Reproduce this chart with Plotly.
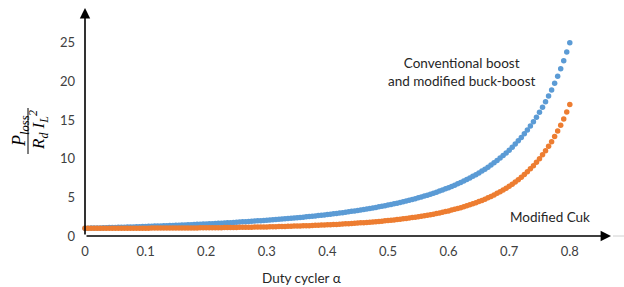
import plotly.graph_objects as go

alpha = [0.000, 0.005, 0.010, 0.015, 0.020, 0.025, 0.030, 0.035, 0.040, 0.045,
         0.050, 0.055, 0.060, 0.065, 0.070, 0.075, 0.080, 0.085, 0.090, 0.095,
         0.100, 0.105, 0.110, 0.115, 0.120, 0.125, 0.130, 0.135, 0.140, 0.145,
         0.150, 0.155, 0.160, 0.165, 0.170, 0.175, 0.180, 0.185, 0.190, 0.195,
         0.200, 0.205, 0.210, 0.215, 0.220, 0.225, 0.230, 0.235, 0.240, 0.245,
         0.250, 0.255, 0.260, 0.265, 0.270, 0.275, 0.280, 0.285, 0.290, 0.295,
         0.300, 0.305, 0.310, 0.315, 0.320, 0.325, 0.330, 0.335, 0.340, 0.345,
         0.350, 0.355, 0.360, 0.365, 0.370, 0.375, 0.380, 0.385, 0.390, 0.395,
         0.400, 0.405, 0.410, 0.415, 0.420, 0.425, 0.430, 0.435, 0.440, 0.445,
         0.450, 0.455, 0.460, 0.465, 0.470, 0.475, 0.480, 0.485, 0.490, 0.495,
         0.500, 0.505, 0.510, 0.515, 0.520, 0.525, 0.530, 0.535, 0.540, 0.545,
         0.550, 0.555, 0.560, 0.565, 0.570, 0.575, 0.580, 0.585, 0.590, 0.595,
         0.600, 0.605, 0.610, 0.615, 0.620, 0.625, 0.630, 0.635, 0.640, 0.645,
         0.650, 0.655, 0.660, 0.665, 0.670, 0.675, 0.680, 0.685, 0.690, 0.695,
         0.700, 0.705, 0.710, 0.715, 0.720, 0.725, 0.730, 0.735, 0.740, 0.745,
         0.750, 0.755, 0.760, 0.765, 0.770, 0.775, 0.780, 0.785, 0.790, 0.795,
         0.800]

boost_loss = [1.00, 1.01, 1.02, 1.03, 1.04, 1.05, 1.06, 1.07, 1.09, 1.10,
              1.11, 1.12, 1.13, 1.14, 1.16, 1.17, 1.18, 1.19, 1.21, 1.22,
              1.23, 1.25, 1.26, 1.28, 1.29, 1.31, 1.32, 1.34, 1.35, 1.37,
              1.38, 1.40, 1.42, 1.43, 1.45, 1.47, 1.49, 1.51, 1.52, 1.54,
              1.56, 1.58, 1.60, 1.62, 1.64, 1.66, 1.69, 1.71, 1.73, 1.75,
              1.78, 1.80, 1.83, 1.85, 1.88, 1.90, 1.93, 1.96, 1.98, 2.01,
              2.04, 2.07, 2.10, 2.13, 2.16, 2.19, 2.23, 2.26, 2.30, 2.33,
              2.37, 2.40, 2.44, 2.48, 2.52, 2.56, 2.60, 2.64, 2.69, 2.73,
              2.78, 2.82, 2.87, 2.92, 2.97, 3.02, 3.08, 3.13, 3.19, 3.25,
              3.31, 3.37, 3.43, 3.49, 3.56, 3.63, 3.70, 3.77, 3.84, 3.92,
              4.00, 4.08, 4.16, 4.25, 4.34, 4.43, 4.53, 4.62, 4.73, 4.83,
              4.94, 5.05, 5.17, 5.28, 5.41, 5.54, 5.67, 5.81, 5.95, 6.10,
              6.25, 6.41, 6.57, 6.75, 6.93, 7.11, 7.30, 7.51, 7.72, 7.93,
              8.16, 8.40, 8.65, 8.91, 9.18, 9.47, 9.77, 10.08, 10.41, 10.75,
              11.11, 11.49, 11.89, 12.31, 12.76, 13.22, 13.72, 14.24, 14.79, 15.38,
              16.00, 16.66, 17.36, 18.11, 18.90, 19.75, 20.66, 21.63, 22.68, 23.80,
              25.00]

cuk_loss = [1.00, 1.00, 1.00, 1.00, 1.00, 1.00, 1.00, 1.00, 1.00, 1.00,
            1.00, 1.00, 1.00, 1.00, 1.01, 1.01, 1.01, 1.01, 1.01, 1.01,
            1.01, 1.01, 1.02, 1.02, 1.02, 1.02, 1.02, 1.02, 1.03, 1.03,
            1.03, 1.03, 1.04, 1.04, 1.04, 1.05, 1.05, 1.05, 1.06, 1.06,
            1.06, 1.07, 1.07, 1.08, 1.08, 1.08, 1.09, 1.09, 1.10, 1.11,
            1.11, 1.12, 1.12, 1.13, 1.14, 1.14, 1.15, 1.16, 1.17, 1.18,
            1.18, 1.19, 1.20, 1.21, 1.22, 1.23, 1.24, 1.25, 1.27, 1.28,
            1.29, 1.30, 1.32, 1.33, 1.34, 1.36, 1.38, 1.39, 1.41, 1.43,
            1.44, 1.46, 1.48, 1.50, 1.52, 1.55, 1.57, 1.59, 1.62, 1.64,
            1.67, 1.70, 1.73, 1.76, 1.79, 1.82, 1.85, 1.89, 1.92, 1.96,
            2.00, 2.04, 2.08, 2.13, 2.17, 2.22, 2.27, 2.32, 2.38, 2.43,
            2.49, 2.56, 2.62, 2.69, 2.76, 2.83, 2.91, 2.99, 3.07, 3.16,
            3.25, 3.35, 3.45, 3.55, 3.66, 3.78, 3.90, 4.03, 4.16, 4.30,
            4.45, 4.60, 4.77, 4.94, 5.12, 5.31, 5.52, 5.73, 5.95, 6.19,
            6.44, 6.71, 6.99, 7.29, 7.61, 7.95, 8.31, 8.69, 9.10, 9.54,
            10.00, 10.50, 11.03, 11.60, 12.21, 12.86, 13.57, 14.33, 15.15, 16.04,
            17.00]

x_ticks = [0, 0.1, 0.2, 0.3, 0.4, 0.5, 0.6, 0.7, 0.8]
x_tick_text = ["0", "0.1", "0.2", "0.3", "0.4", "0.5", "0.6", "0.7", "0.8"]
y_ticks = [0, 5, 10, 15, 20, 25]
y_tick_text = ["0", "5", "10", "15", "20", "25"]

W, H = 624, 287
L, R, T, B = 85, 13, 8, 51
XMAX, YMAX = 0.868, 29.5
pw, ph = W - L - R, H - T - B

def px(x):
    return (x - L) / pw

def py(y):
    return (H - B - y) / ph

BLUE = "#5B9BD5"
ORANGE = "#ED7D31"
FONT = "Lato"
TXT = "#262626"

fig = go.Figure()
fig.add_trace(go.Scatter(x=alpha, y=boost_loss, mode="markers",
                         marker=dict(color=BLUE, size=5.5, line=dict(width=0)),
                         cliponaxis=False, showlegend=False))
fig.add_trace(go.Scatter(x=alpha, y=cuk_loss, mode="markers",
                         marker=dict(color=ORANGE, size=5.5, line=dict(width=0)),
                         cliponaxis=False, showlegend=False))

fig.update_layout(
    width=W, height=H,
    margin=dict(l=L, r=R, t=T, b=B),
    paper_bgcolor="white", plot_bgcolor="white",
    font=dict(family=FONT, size=13, color=TXT),
    xaxis=dict(range=[0, XMAX], tickvals=x_ticks, ticktext=x_tick_text,
               showgrid=False, zeroline=False, showline=False, ticks="",
               ticklabelstandoff=6, tickfont=dict(size=13, color="#404040")),
    yaxis=dict(range=[0, YMAX], tickvals=y_ticks, ticktext=y_tick_text,
               showgrid=False, zeroline=False, showline=False, ticks="",
               ticklabelstandoff=9, tickfont=dict(size=13, color="#404040")),
)

# axis arrows
fig.add_annotation(x=XMAX, y=0, ax=0, ay=0, xref="x", yref="y", axref="x", ayref="y",
                   showarrow=True, arrowhead=2, arrowsize=1.3, arrowwidth=1.6,
                   arrowcolor="black", text="")
fig.add_annotation(x=0, y=YMAX, ax=0, ay=0, xref="x", yref="y", axref="x", ayref="y",
                   showarrow=True, arrowhead=2, arrowsize=1.3, arrowwidth=1.6,
                   arrowcolor="black", text="")
fig.add_shape(type="line", xref="paper", yref="paper", x0=px(613), x1=px(624),
              y0=0, y1=0, line=dict(color="#d0d0d0", width=1))

def label(xp, yp, text, size=13.5, family=FONT, color=TXT, angle=0):
    fig.add_annotation(x=px(xp), y=py(yp), xref="paper", yref="paper",
                       xanchor="center", yanchor="middle", text=text,
                       showarrow=False, textangle=angle, align="center",
                       font=dict(size=size, color=color, family=family))

# series labels
label(462, 72, "Conventional boost<br>and modified buck-boost")
label(550, 217, "Modified Cuk")
# x-axis title
label(301, 278, "Duty cycler α")

# y-axis title as a rotated fraction
SERIF = "Liberation Serif"
label(20, 131, "<i>P<sub>loss</sub></i>", size=18, family=SERIF, color="black", angle=-90)
label(38, 130, "<i>R<sub>d</sub> I<sub>L</sub><sup>2</sup></i>", size=17, family=SERIF,
      color="black", angle=-90)
fig.add_shape(type="line", xref="paper", yref="paper", x0=px(28), x1=px(28),
              y0=py(108), y1=py(154), line=dict(color="black", width=1))

fig.write_html("out.html", config={"displayModeBar": False},
               post_script="document.body.style.margin='0';")
